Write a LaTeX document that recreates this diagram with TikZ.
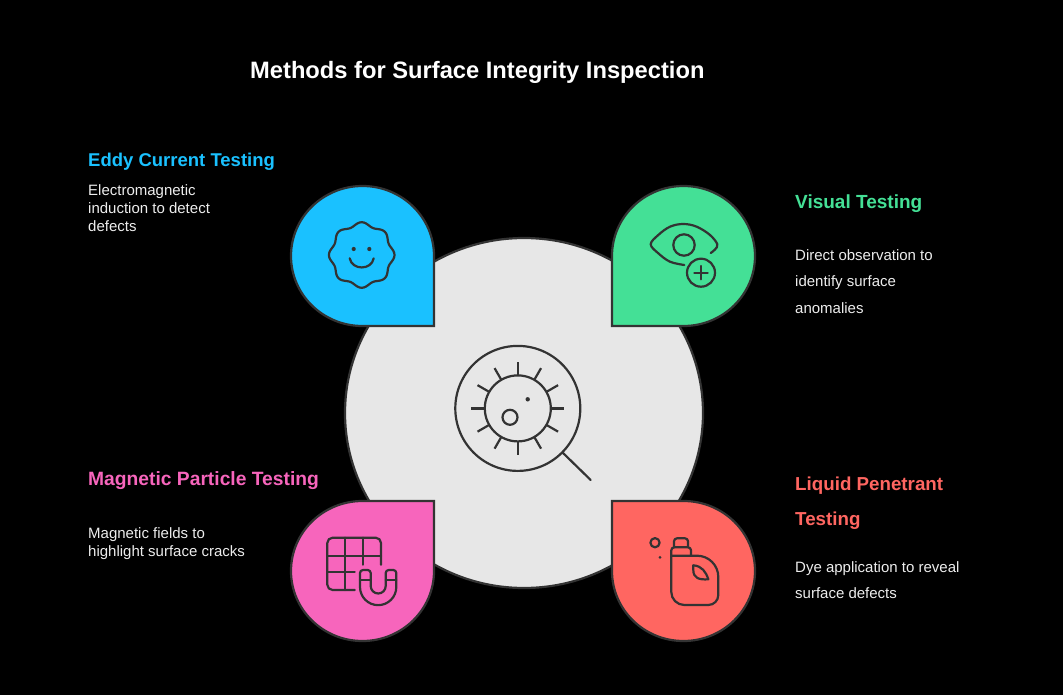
\documentclass[tikz,border=0pt]{standalone}
\usepackage{fontspec}
\usetikzlibrary{calc}
\setmainfont{Liberation Sans}
\definecolor{ink}{HTML}{333333}
\definecolor{disc}{HTML}{E7E7E7}
\definecolor{cblue}{HTML}{1AC1FF}
\definecolor{cgreen}{HTML}{44E096}
\definecolor{cpink}{HTML}{F765BC}
\definecolor{cred}{HTML}{FF6661}
\definecolor{bodyc}{HTML}{EDEDED}
\tikzset{
  shape line/.style={draw=ink,line width=2.2pt,line join=miter},
  icon/.style={draw=ink,line width=2.2pt,line cap=round,line join=round},
  dotmark/.style={fill=ink,draw=none},
  titletext/.style={anchor=base west,inner sep=0pt,text=white,font=\fontsize{23.7}{28}\selectfont\bfseries},
  headtext/.style={anchor=base west,inner sep=0pt,font=\fontsize{#1}{24}\selectfont\bfseries},
  bodytext/.style={anchor=base west,inner sep=0pt,text=bodyc,font=\fontsize{15}{18}\selectfont},
}
\begin{document}
\begin{tikzpicture}[x=1pt,y=-1pt]
\fill[black] (0,0) rectangle (1063,695);
\useasboundingbox (0,0) rectangle (1063,695);
% central disc
\draw[shape line,fill=disc] (524,413) ellipse [x radius=179,y radius=175];
% teardrops
\draw[shape line,fill=cblue] (434,326) -- (434,256) arc[start angle=0,end angle=-270,x radius=71.5,y radius=70] -- cycle;
\draw[shape line,fill=cgreen] (612,326) -- (612,256) arc[start angle=180,end angle=450,x radius=71.5,y radius=70] -- cycle;
\draw[shape line,fill=cpink] (434,501) -- (434,571) arc[start angle=0,end angle=270,x radius=71.5,y radius=70] -- cycle;
\draw[shape line,fill=cred] (612,501) -- (683.5,501) arc[start angle=-90,end angle=180,x radius=71.5,y radius=70] -- cycle;
% magnifier icon
\draw[icon] (517.8,408.4) circle[radius=62.5];
\draw[icon] (517.8,408.4) circle[radius=33];
\foreach \a in {0,30,...,330}
  \draw[icon,line cap=butt] ($(517.8,408.4)+(\a:33)$) -- ($(517.8,408.4)+(\a:46.5)$);
\draw[icon] (510,417.3) circle[radius=7.5];
\fill[dotmark] (527.7,399.3) circle[radius=2.2];
\draw[icon] (562.3,452.3) -- (590.7,480);
% smiley
\draw[icon] plot[smooth,samples=97,domain=0:360,variable=\t] ({361.7+(31+1.8*cos(8*\t))*cos(\t)},{255+(31+1.8*cos(8*\t))*sin(\t)}) -- cycle;
\fill[dotmark] (353.7,249) circle[radius=2.1];
\fill[dotmark] (369.3,249) circle[radius=2.1];
\draw[icon] (349.7,258.3) .. controls (352,270.5) and (371.5,270.5) .. (373.7,258.3);
% eye
\draw[icon] plot[smooth,tension=0.6] coordinates {(710.7,253) (715,249.5) (717.3,244.3) (710,235) (696.7,226.7) (683.3,224) (670,226.7) (658.3,235) (650.7,244.3) (658.3,253.3) (670,261.7) (684.3,265)};
\draw[icon] (684,245) circle[radius=10.7];
\draw[icon] (701,272.7) circle[radius=14];
\draw[icon] (694.3,272.7) -- (707.7,272.7);
\draw[icon] (701,266) -- (701,279.4);
% grid and magnet
\draw[icon] (381,564.7) -- (381,543) arc[start angle=0,end angle=-90,radius=5.3] -- (332.6,537.7) arc[start angle=-90,end angle=-180,radius=5.3] -- (327.3,584.7) arc[start angle=180,end angle=90,radius=5.3] -- (354.7,590);
\draw[icon] (327.3,556) -- (381,556);
\draw[icon] (327.3,572.3) -- (354.7,572.3);
\draw[icon] (345,537.7) -- (345,590);
\draw[icon] (363,537.7) -- (363,564.7);
\draw[icon] (360,587) -- (360,573) arc[start angle=180,end angle=270,radius=3] -- (367.7,570) arc[start angle=-90,end angle=0,radius=3] -- (370.7,586) arc[start angle=180,end angle=0,radius=7.5] -- (385.7,573) arc[start angle=180,end angle=270,radius=3] -- (393.3,570) arc[start angle=-90,end angle=0,radius=3] -- (396.3,587) arc[start angle=0,end angle=180,radius=18.15];
\draw[icon] (360,580) -- (370.7,580);
\draw[icon] (385.7,580) -- (396.3,580);
% bottle
\draw[icon] (674,547.3) -- (674,541.3) arc[start angle=180,end angle=270,radius=3] -- (685,538.3) arc[start angle=-90,end angle=0,radius=3] -- (688,547.3);
\draw[icon] (671.3,555.7) -- (671.3,550.3) arc[start angle=180,end angle=270,radius=3] -- (688,547.3) arc[start angle=-90,end angle=0,radius=3] -- (691,555.7);
\draw[icon] (671.3,555.7) -- (697,555.7) arc[start angle=-90,end angle=0,radius=21.3] -- (718.3,595) arc[start angle=0,end angle=90,radius=10] -- (684.3,605) arc[start angle=90,end angle=180,radius=13] -- cycle;
\draw[icon] (693.3,565.3) .. controls (702,566) and (706,572) .. (708.3,579.3) .. controls (699,580) and (693.3,578) .. (693.3,570) -- cycle;
\draw[icon] (655,542.7) circle[radius=4.6];
\fill[dotmark] (660,557.3) circle[radius=1.5];
% texts
\node[titletext] (title) at (250,79) {Methods for Surface Integrity Inspection};
\node[headtext=18.5,text=cblue] (eddyhead) at (88,167) {Eddy Current Testing};
\node[bodytext] (eddy1) at (88,196) {Electromagnetic};
\node[bodytext] (eddy2) at (88,214) {induction to detect};
\node[bodytext] (eddy3) at (88,232) {defects};
\node[headtext=19,text=cgreen] (vishead) at (795,209) {Visual Testing};
\node[bodytext] (vis1) at (795,260) {Direct observation to};
\node[bodytext] (vis2) at (795,287) {identify surface};
\node[bodytext] (vis3) at (795,313) {anomalies};
\node[headtext=19.25,text=cpink] (maghead) at (88,485) {Magnetic Particle Testing};
\node[bodytext] (mag1) at (88,538) {Magnetic fields to};
\node[bodytext] (mag2) at (88,556) {highlight surface cracks};
\node[headtext=18.75,text=cred] (liqhead1) at (795,490) {Liquid Penetrant};
\node[headtext=18.75,text=cred] (liqhead2) at (795,525) {Testing};
\node[bodytext] (liq1) at (795,572) {Dye application to reveal};
\node[bodytext] (liq2) at (795,598) {surface defects};
\end{tikzpicture}
\end{document}
